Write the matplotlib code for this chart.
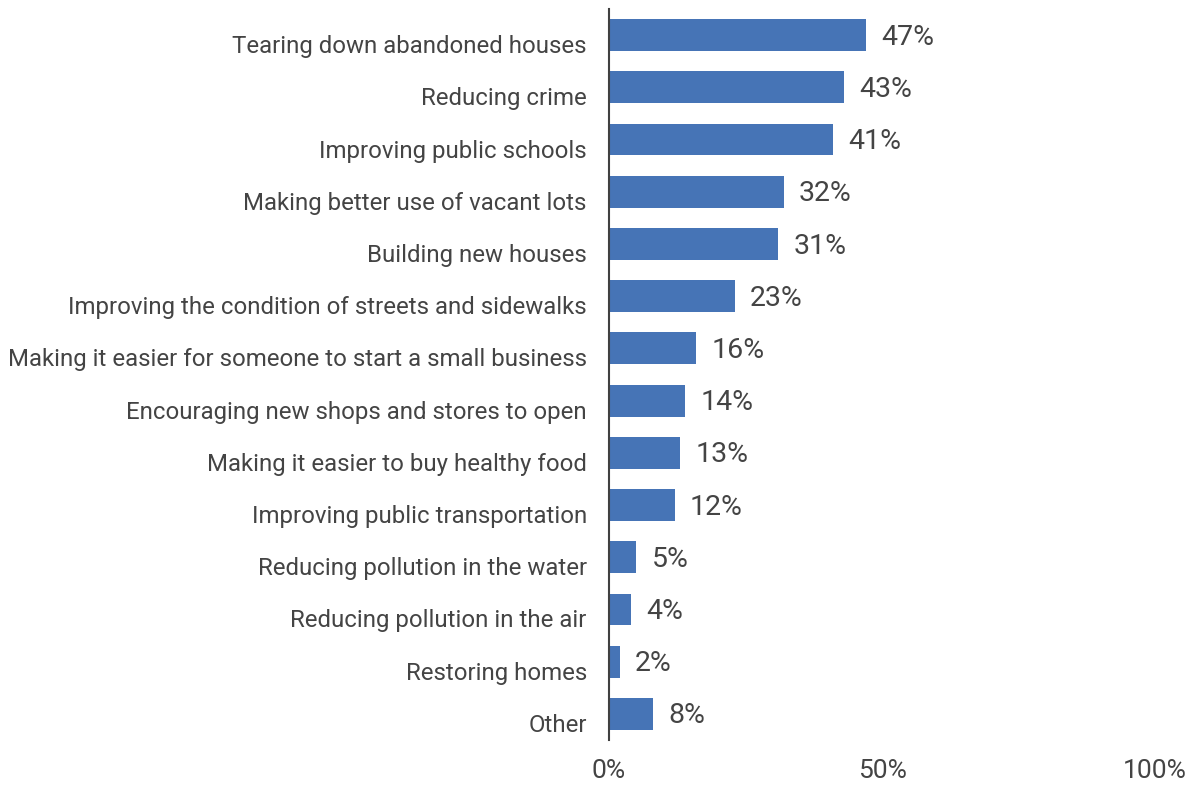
import numpy as np
import matplotlib
matplotlib.use('Agg')
import matplotlib.pyplot as plt
import matplotlib.ticker as mtick
from matplotlib.transforms import ScaledTranslation

categories = ['Tearing down abandoned houses', 'Reducing crime', 'Improving public schools',
              'Making better use of vacant lots', 'Building new houses',
              'Improving the condition of streets and sidewalks',
              'Making it easier for someone to start a small business',
              'Encouraging new shops and stores to open', 'Making it easier to buy healthy food',
              'Improving public transportation', 'Reducing pollution in the water',
              'Reducing pollution in the air', 'Restoring homes', 'Other']
values = [47, 43, 41, 32, 31, 23, 16, 14, 13, 12, 5, 4, 2, 8]
xticks = [0, 50, 100]

plt.rcParams['font.family'] = ['Roboto', 'DejaVu Sans']
text_color = '#444444'

fig = plt.figure(figsize = (11.92, 7.90), dpi = 100)
ax = fig.add_axes([609 / 1192, 50 / 790, (1155 - 609) / 1192, 731 / 790])

y = np.arange(len(categories))
ax.barh(y, values, height = 0.61, color = '#4674b6')

for yi, v in zip(y, values):
    ax.text(v + 2.8, yi + 0.04, '{}%'.format(v), va = 'center', ha = 'left', fontsize = 20.5, color = text_color)

ax.set_ylim(len(categories) - 0.5, -0.5)
ax.set_xlim(0, 100)

ax.set_yticks(y)
ax.set_yticklabels(categories, fontsize = 17.3, color = text_color)
ax.set_xticks(xticks)
ax.xaxis.set_major_formatter(mtick.PercentFormatter(decimals = 0))
plt.xticks(fontsize = 19, color = text_color)

ax.tick_params(axis = 'y', length = 0, pad = 16)
ax.tick_params(axis = 'x', length = 0, pad = 14)

# category labels sit low, baseline about 18px under the bar middle
shift = ScaledTranslation(0, -0.18, fig.dpi_scale_trans)
for label in ax.get_yticklabels():
    label.set_va('baseline')
    label.set_transform(label.get_transform() + shift)

for side in ('top', 'right', 'bottom'):
    ax.spines[side].set_visible(False)
ax.spines['left'].set_color('#404040')
ax.spines['left'].set_linewidth(1.5)

fig.savefig('out.png', dpi = 100)
